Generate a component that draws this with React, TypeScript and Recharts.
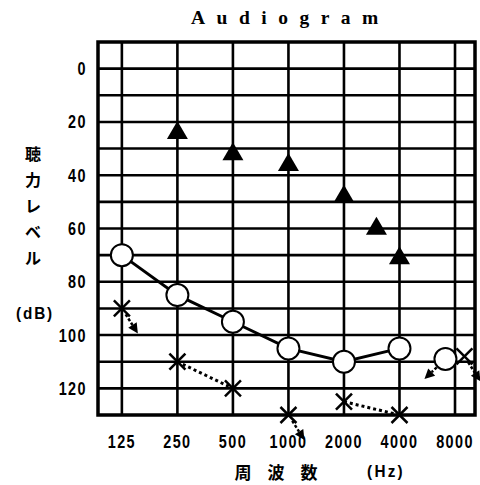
import React from 'react';
import {
  ComposedChart,
  XAxis,
  YAxis,
  Line,
  Scatter,
  ReferenceLine,
  ReferenceArea,
} from 'recharts';

// ---- data ----
const freqTicks = [125, 250, 500, 1000, 2000, 4000, 8000];
const freqTickLabels = ['125', '250', '500', '1000', '2000', '4000', '8000'];
const dbGridLines = [0, 10, 20, 30, 40, 50, 60, 70, 80, 90, 100, 110, 120];
const dbTicks = [0, 20, 40, 60, 80, 100, 120];

// bone conduction (filled triangles)
const boneFreq = [250, 500, 1000, 2000, 3000, 4000];
const boneDb = [23, 31, 35, 47, 59, 70];

// right ear air conduction (circles)
const rightFreq = [125, 250, 500, 1000, 2000, 4000, 7100];
const rightDb = [70, 85, 95, 105, 110, 105, 109];
const rightNoResponse = [false, false, false, false, false, false, true];
const rightJoined = [0, 1, 2, 3, 4, 5];

// left ear air conduction (crosses)
const leftFreq = [125, 250, 500, 1000, 2000, 4000, 9000];
const leftDb = [90, 110, 120, 130, 125, 130, 108];
const leftNoResponse = [true, false, false, true, false, false, true];
const leftDottedSegments = [
  [1, 2],
  [4, 5],
];

const titleText = 'Audiogram';
const yLabelChars = ['聴', '力', 'レ', 'ベ', 'ル'];
const yUnit = '(dB)';
const xLabelChars = ['周', '波', '数'];
const xUnit = '(Hz)';

// ---- derived tables ----
const boneData = boneFreq.map((f, i) => ({ f, db: boneDb[i] }));
const rightData = rightFreq.map((f, i) => ({ f, db: rightDb[i], nr: rightNoResponse[i] }));
const leftData = leftFreq.map((f, i) => ({ f, db: leftDb[i], nr: leftNoResponse[i] }));
const rightLineData = rightJoined.map((i) => rightData[i]);
const leftSegData = leftDottedSegments.map((seg) => seg.map((i) => leftData[i]));

const X_DOMAIN: [number, number] = [125 * Math.pow(2, -0.43), 125 * Math.pow(2, 6.36)];

const TICK_FONT = "'Liberation Sans', Arial, sans-serif";
const CJK_FONT = "'Noto Sans CJK JP', sans-serif";

function arrow(cx: number, cy: number, dx: number, dy: number) {
  const len = Math.sqrt(dx * dx + dy * dy);
  const ux = dx / len;
  const uy = dy / len;
  const tx = cx + dx;
  const ty = cy + dy;
  const bx = tx - ux * 10;
  const by = ty - uy * 10;
  const px = -uy;
  const py = ux;
  return (
    <g>
      <line
        x1={cx + ux * 7}
        y1={cy + uy * 7}
        x2={bx}
        y2={by}
        stroke="#000"
        strokeWidth={2.5}
        strokeDasharray="3 2"
      />
      <path
        d={`M${tx},${ty} L${bx + px * 5},${by + py * 5} L${bx - px * 5},${by - py * 5} Z`}
        fill="#000"
      />
    </g>
  );
}

const TriangleShape = (props: any) => {
  const { cx, cy } = props;
  return <path d={`M${cx},${cy - 9} L${cx + 10.5},${cy + 9} L${cx - 10.5},${cy + 9} Z`} fill="#000" />;
};

const CircleShape = (props: any) => {
  const { cx, cy, payload } = props;
  return (
    <g>
      {payload && payload.nr ? arrow(cx, cy, -21, 20) : null}
      <circle cx={cx} cy={cy} r={11} fill="#fff" stroke="#000" strokeWidth={2} />
    </g>
  );
};

const CrossShape = (props: any) => {
  const { cx, cy, payload } = props;
  const s = 8;
  return (
    <g>
      {payload && payload.nr ? arrow(cx, cy, 16, 25) : null}
      <line x1={cx - s} y1={cy - s} x2={cx + s} y2={cy + s} stroke="#000" strokeWidth={2.5} />
      <line x1={cx - s} y1={cy + s} x2={cx + s} y2={cy - s} stroke="#000" strokeWidth={2.5} />
    </g>
  );
};

const XTick = (props: any) => {
  const { x, y, payload } = props;
  const i = freqTicks.indexOf(payload.value);
  const label = i >= 0 ? freqTickLabels[i] : String(payload.value);
  return (
    <g transform={`translate(${x},${y})`}>
      <text
        x={0}
        y={13}
        transform="scale(0.8,1)"
        textAnchor="middle"
        fontFamily={TICK_FONT}
        fontWeight="bold"
        fontSize={18}
        fill="#000"
        style={{ letterSpacing: 1.8 }}
      >
        {label}
      </text>
    </g>
  );
};

const YTick = (props: any) => {
  const { x, y, payload } = props;
  return (
    <g transform={`translate(${x},${y})`}>
      <text
        x={0}
        y={6.5}
        transform="scale(0.8,1)"
        textAnchor="end"
        fontFamily={TICK_FONT}
        fontWeight="bold"
        fontSize={18}
        fill="#000"
        style={{ letterSpacing: 1.8 }}
      >
        {String(payload.value)}
      </text>
    </g>
  );
};

export default function App() {
  return (
    <div
      style={{
        position: 'absolute',
        left: 0,
        top: 0,
        width: 480,
        height: 485,
        background: '#fff',
      }}
    >
      <ComposedChart
        width={480}
        height={485}
        margin={{ top: 42, right: 5, bottom: 0, left: 0 }}
      >
        <XAxis
          type="number"
          dataKey="f"
          scale="log"
          domain={X_DOMAIN}
          ticks={freqTicks}
          interval={0}
          height={70}
          axisLine={false}
          tickLine={false}
          tickSize={0}
          tickMargin={20}
          tick={<XTick />}
        />
        <YAxis
          type="number"
          dataKey="db"
          reversed
          domain={[-10, 130]}
          ticks={dbTicks}
          interval={0}
          width={98}
          axisLine={false}
          tickLine={false}
          tickSize={0}
          tickMargin={11}
          tick={<YTick />}
        />
        {dbGridLines.map((v) => (
          <ReferenceLine key={'h' + v} y={v} stroke="#000" strokeWidth={2.6} ifOverflow="visible" />
        ))}
        {freqTicks.map((v) => (
          <ReferenceLine key={'v' + v} x={v} stroke="#000" strokeWidth={2.6} ifOverflow="visible" />
        ))}
        <ReferenceArea
          y1={-10}
          y2={130}
          fill="none"
          fillOpacity={0}
          stroke="#000"
          strokeWidth={3.5}
          ifOverflow="visible"
        />
        <Line
          data={rightLineData}
          dataKey="db"
          stroke="#000"
          strokeWidth={3}
          dot={false}
          activeDot={false}
          isAnimationActive={false}
          type="linear"
        />
        {leftSegData.map((seg, i) => (
          <Line
            key={'ls' + i}
            data={seg}
            dataKey="db"
            stroke="#000"
            strokeWidth={3}
            strokeDasharray="3 3"
            dot={false}
            activeDot={false}
            isAnimationActive={false}
            type="linear"
          />
        ))}
        <Scatter data={boneData} dataKey="db" shape={TriangleShape} isAnimationActive={false} />
        <Scatter data={rightData} dataKey="db" shape={CircleShape} isAnimationActive={false} />
        <Scatter data={leftData} dataKey="db" shape={CrossShape} isAnimationActive={false} />
      </ComposedChart>
      <svg
        width={480}
        height={485}
        style={{ position: 'absolute', left: 0, top: 0, pointerEvents: 'none' }}
      >
        <text
          x={191}
          y={24}
          fontFamily="'Liberation Serif', 'DejaVu Serif', serif"
          fontWeight="bold"
          fontSize={19.5}
          style={{ letterSpacing: 11.5 }}
          fill="#000"
        >
          {titleText}
        </text>
        {yLabelChars.map((c, i) => (
          <text
            key={c + i}
            x={33}
            y={153 + i * 26}
            textAnchor="middle"
            dominantBaseline="central"
            fontFamily={CJK_FONT}
            fontWeight="bold"
            fontSize={16}
            fill="#000"
          >
            {c}
          </text>
        ))}
        <g transform="translate(35,319)">
          <text
            x={0}
            y={0}
            transform="scale(0.9,1)"
            textAnchor="middle"
            fontFamily={TICK_FONT}
            fontWeight="bold"
            fontSize={17}
            style={{ letterSpacing: 2 }}
            fill="#000"
          >
            {yUnit}
          </text>
        </g>
        {xLabelChars.map((c, i) => (
          <text
            key={c + i}
            x={243 + i * 33}
            y={471}
            textAnchor="middle"
            dominantBaseline="central"
            fontFamily={CJK_FONT}
            fontWeight="bold"
            fontSize={17}
            fill="#000"
          >
            {c}
          </text>
        ))}
        <g transform="translate(386,477)">
          <text
            x={0}
            y={0}
            transform="scale(0.9,1)"
            textAnchor="middle"
            fontFamily={TICK_FONT}
            fontWeight="bold"
            fontSize={17}
            style={{ letterSpacing: 2.5 }}
            fill="#000"
          >
            {xUnit}
          </text>
        </g>
      </svg>
    </div>
  );
}
